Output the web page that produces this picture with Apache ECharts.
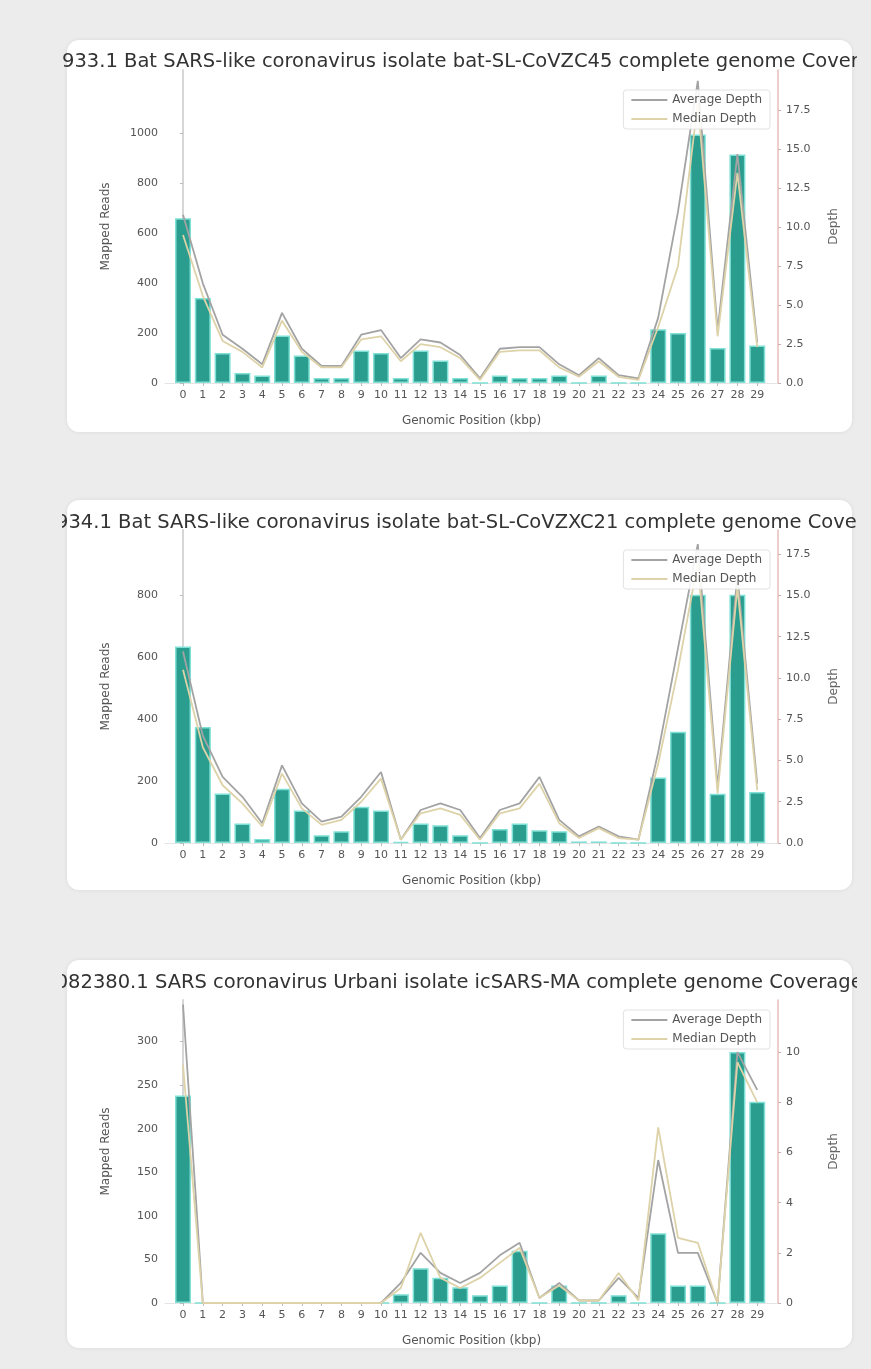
<!DOCTYPE html>
<html>
<head>
<meta charset="utf-8">
<script src="https://cdn.jsdelivr.net/npm/echarts@6/dist/echarts.min.js"></script>
<style>
  html, body { margin: 0; padding: 0; }
  body { width: 871px; height: 1369px; background: #ececec; position: relative; overflow: hidden; font-family: "DejaVu Sans", sans-serif; }
  .card { position: absolute; left: 67px; width: 785px; background: #ffffff; border-radius: 12px; box-shadow: 0 0 4px rgba(0,0,0,0.08); }
  .chart { position: absolute; left: 62px; width: 795px; height: 392px; }
</style>
</head>
<body>
<div class="card" style="top:40px;height:392px"></div>
<div class="card" style="top:500px;height:390px"></div>
<div class="card" style="top:960px;height:388px"></div>
<div class="chart" id="c1" style="top:40px"></div>
<div class="chart" id="c2" style="top:500px"></div>
<div class="chart" id="c3" style="top:960px"></div>
<script>
// Genome bins (kb)
const categories = ['0','1','2','3','4','5','6','7','8','9','10','11','12','13','14','15','16','17','18','19','20','21','22','23','24','25','26','27','28','29'];

// MG772933.1 bat-SL-CoVZC45
const title1 = 'MG772933.1 Bat SARS-like coronavirus isolate bat-SL-CoVZC45 complete genome Coverage';
const reads1 = [660, 340, 120, 40, 30, 190, 110, 20, 20, 130, 120, 20, 130, 90, 20, 0, 30, 20, 20, 30, 0, 30, 0, 0, 215, 200, 995, 140, 915, 150];
const avgDepth1 = [10.8, 6.4, 3.1, 2.2, 1.2, 4.5, 2.2, 1.1, 1.1, 3.1, 3.4, 1.6, 2.8, 2.6, 1.8, 0.3, 2.2, 2.3, 2.3, 1.2, 0.5, 1.6, 0.5, 0.3, 4.2, 11.0, 19.4, 3.4, 14.7, 2.6];
const medDepth1 = [9.5, 5.6, 2.7, 2.0, 1.0, 4.0, 2.0, 1.0, 1.0, 2.8, 3.0, 1.4, 2.5, 2.3, 1.6, 0.2, 2.0, 2.1, 2.1, 1.0, 0.4, 1.4, 0.4, 0.2, 3.6, 7.5, 18.0, 3.0, 13.5, 2.3];
const readTicks1 = [0, 200, 400, 600, 800, 1000];
const depthTicks1 = [0, 2.5, 5, 7.5, 10, 12.5, 15, 17.5];

// MG772934.1 bat-SL-CoVZXC21
const title2 = 'MG772934.1 Bat SARS-like coronavirus isolate bat-SL-CoVZXC21 complete genome Coverage';
const reads2 = [635, 375, 160, 63, 13, 175, 105, 25, 38, 117, 105, 3, 63, 57, 25, 0, 45, 63, 41, 38, 5, 5, 0, 0, 212, 360, 803, 159, 803, 165];
const avgDepth2 = [11.6, 6.5, 4.0, 2.8, 1.2, 4.7, 2.4, 1.3, 1.6, 2.8, 4.3, 0.2, 2.0, 2.4, 2.0, 0.3, 2.0, 2.4, 4.0, 1.4, 0.4, 1.0, 0.4, 0.2, 5.5, 11.8, 18.1, 3.4, 16.2, 3.6];
const medDepth2 = [10.5, 5.8, 3.5, 2.4, 1.0, 4.2, 2.1, 1.1, 1.4, 2.5, 3.9, 0.2, 1.8, 2.1, 1.7, 0.2, 1.8, 2.1, 3.6, 1.2, 0.3, 0.9, 0.3, 0.2, 4.8, 10.5, 17.0, 3.0, 15.5, 3.2];
const readTicks2 = [0, 200, 400, 600, 800];
const depthTicks2 = [0, 2.5, 5, 7.5, 10, 12.5, 15, 17.5];

// SARS-CoV Urbani icSARS-MA
const title3 = 'DQ082380.1 SARS coronavirus Urbani isolate icSARS-MA complete genome Coverage';
const reads3 = [238, 0, 0, 0, 0, 0, 0, 0, 0, 0, 0, 10, 40, 29, 18, 9, 20, 60, 0, 20, 0, 0, 9, 0, 80, 20, 20, 0, 288, 231];
const avgDepth3 = [11.9, 0, 0, 0, 0, 0, 0, 0, 0, 0, 0, 0.8, 2.0, 1.2, 0.8, 1.2, 1.9, 2.4, 0.2, 0.8, 0.1, 0.1, 1.0, 0.2, 5.7, 2.0, 2.0, 0, 10.0, 8.5];
const medDepth3 = [9.5, 0, 0, 0, 0, 0, 0, 0, 0, 0, 0, 0.6, 2.8, 1.0, 0.6, 1.0, 1.6, 2.2, 0.2, 0.7, 0.1, 0.1, 1.2, 0.1, 7.0, 2.6, 2.4, 0, 9.6, 8.0];
const readTicks3 = [0, 50, 100, 150, 200, 250, 300];
const depthTicks3 = [0, 2, 4, 6, 8, 10];

const FONT = 'DejaVu Sans';
const BAR = '#2a9d8f';
const BAR_EDGE = '#7fe0d5';
const AVG = '#a3a3a3';
const MED = '#ddd2a8';
// plain line handle for the legend
const LINE_ICON = 'path://M0,0 H40 V2 H0 Z';

function build(cfg) {
  const idx = categories.map((c, i) => i);
  return {
    animation: false,
    textStyle: { fontFamily: FONT },
    title: {
      text: cfg.title, left: 377, textAlign: 'center', top: cfg.titleTop,
      textStyle: { fontFamily: FONT, fontSize: 19.5, fontWeight: 'normal', color: '#333' }
    },
    legend: {
      data: [
        { name: 'Average Depth', icon: LINE_ICON },
        { name: 'Median Depth', icon: LINE_ICON }
      ],
      orient: 'vertical', right: 87, top: 50,
      itemWidth: 36, itemHeight: 14, itemGap: 7, padding: [4, 8],
      backgroundColor: 'rgba(255,255,255,0.88)', borderColor: '#e2e2e2', borderWidth: 1, borderRadius: 3,
      textStyle: { fontFamily: FONT, fontSize: 12, color: '#555' }
    },
    grid: { left: 103, right: 79, top: cfg.gridTop, bottom: cfg.gridBottom },
    xAxis: {
      type: 'value', min: -0.91, max: 30.05,
      name: 'Genomic Position (kbp)', nameLocation: 'middle', nameGap: 32,
      nameTextStyle: { fontFamily: FONT, fontSize: 12, color: '#555' },
      axisLine: { show: true, lineStyle: { color: '#e4e4e4', width: 1 } },
      axisTick: { show: true, customValues: idx, length: 3, lineStyle: { color: '#bbb' } },
      axisLabel: { customValues: idx, formatter: v => categories[Math.round(v)], fontSize: 11, color: '#555', margin: 7, fontFamily: FONT },
      splitLine: { show: false }
    },
    yAxis: [
      {
        type: 'value', min: 0, max: cfg.readMax, position: 'left',
        name: 'Mapped Reads', nameLocation: 'middle', nameGap: 53, nameRotate: 90,
        nameTextStyle: { fontFamily: FONT, fontSize: 12, color: '#555' },
        axisLine: { show: true, lineStyle: { color: '#d6d6d6', width: 2 } },
        axisTick: { show: true, customValues: cfg.readTicks, length: 3, lineStyle: { color: '#bbb' } },
        axisLabel: { customValues: cfg.readTicks, formatter: v => String(v), fontSize: 11, color: '#555', margin: 7, fontFamily: FONT },
        splitLine: { show: false }
      },
      {
        type: 'value', min: 0, max: cfg.depthMax, position: 'right',
        name: 'Depth', nameLocation: 'middle', nameGap: 50, nameRotate: 90,
        nameTextStyle: { fontFamily: FONT, fontSize: 12, color: '#666' },
        axisLine: { show: true, lineStyle: { color: '#e8bcbc', width: 1.5 } },
        axisTick: { show: true, customValues: cfg.depthTicks, length: 3, lineStyle: { color: '#ccb0b0' } },
        axisLabel: { customValues: cfg.depthTicks, formatter: v => cfg.depthFmt(v), fontSize: 11, color: '#555', margin: 8, fontFamily: FONT },
        splitLine: { show: false }
      }
    ],
    series: [
      {
        name: 'Mapped Reads', type: 'bar', yAxisIndex: 0, barWidth: 16,
        data: cfg.reads.map((v, i) => [i, v]),
        itemStyle: { color: BAR, borderColor: BAR_EDGE, borderWidth: 1.5 },
        z: 2
      },
      {
        name: 'Average Depth', type: 'line', yAxisIndex: 1, symbol: 'none',
        data: cfg.avg.map((v, i) => [i, v]),
        lineStyle: { color: AVG, width: 1.8 }, itemStyle: { color: AVG }, z: 3
      },
      {
        name: 'Median Depth', type: 'line', yAxisIndex: 1, symbol: 'none',
        data: cfg.med.map((v, i) => [i, v]),
        lineStyle: { color: MED, width: 1.8 }, itemStyle: { color: MED }, z: 3
      }
    ]
  };
}

const oneDec = v => v.toFixed(1);
const intFmt = v => String(Math.round(v));

echarts.init(document.getElementById('c1'), null, { renderer: 'canvas' }).setOption(build({
  title: title1, titleTop: 7, gridTop: 30, gridBottom: 40,
  reads: reads1, avg: avgDepth1, med: medDepth1,
  readMax: 1253, readTicks: readTicks1, depthMax: 20.1, depthTicks: depthTicks1, depthFmt: oneDec
}));
echarts.init(document.getElementById('c2'), null, { renderer: 'canvas' }).setOption(build({
  title: title2, titleTop: 8, gridTop: 30, gridBottom: 42,
  reads: reads2, avg: avgDepth2, med: medDepth2,
  readMax: 1012, readTicks: readTicks2, depthMax: 18.96, depthTicks: depthTicks2, depthFmt: oneDec
}));
echarts.init(document.getElementById('c3'), null, { renderer: 'canvas' }).setOption(build({
  title: title3, titleTop: 8, gridTop: 40, gridBottom: 44,
  reads: reads3, avg: avgDepth3, med: medDepth3,
  readMax: 347.6, readTicks: readTicks3, depthMax: 12.08, depthTicks: depthTicks3, depthFmt: intFmt
}));
</script>
</body>
</html>
